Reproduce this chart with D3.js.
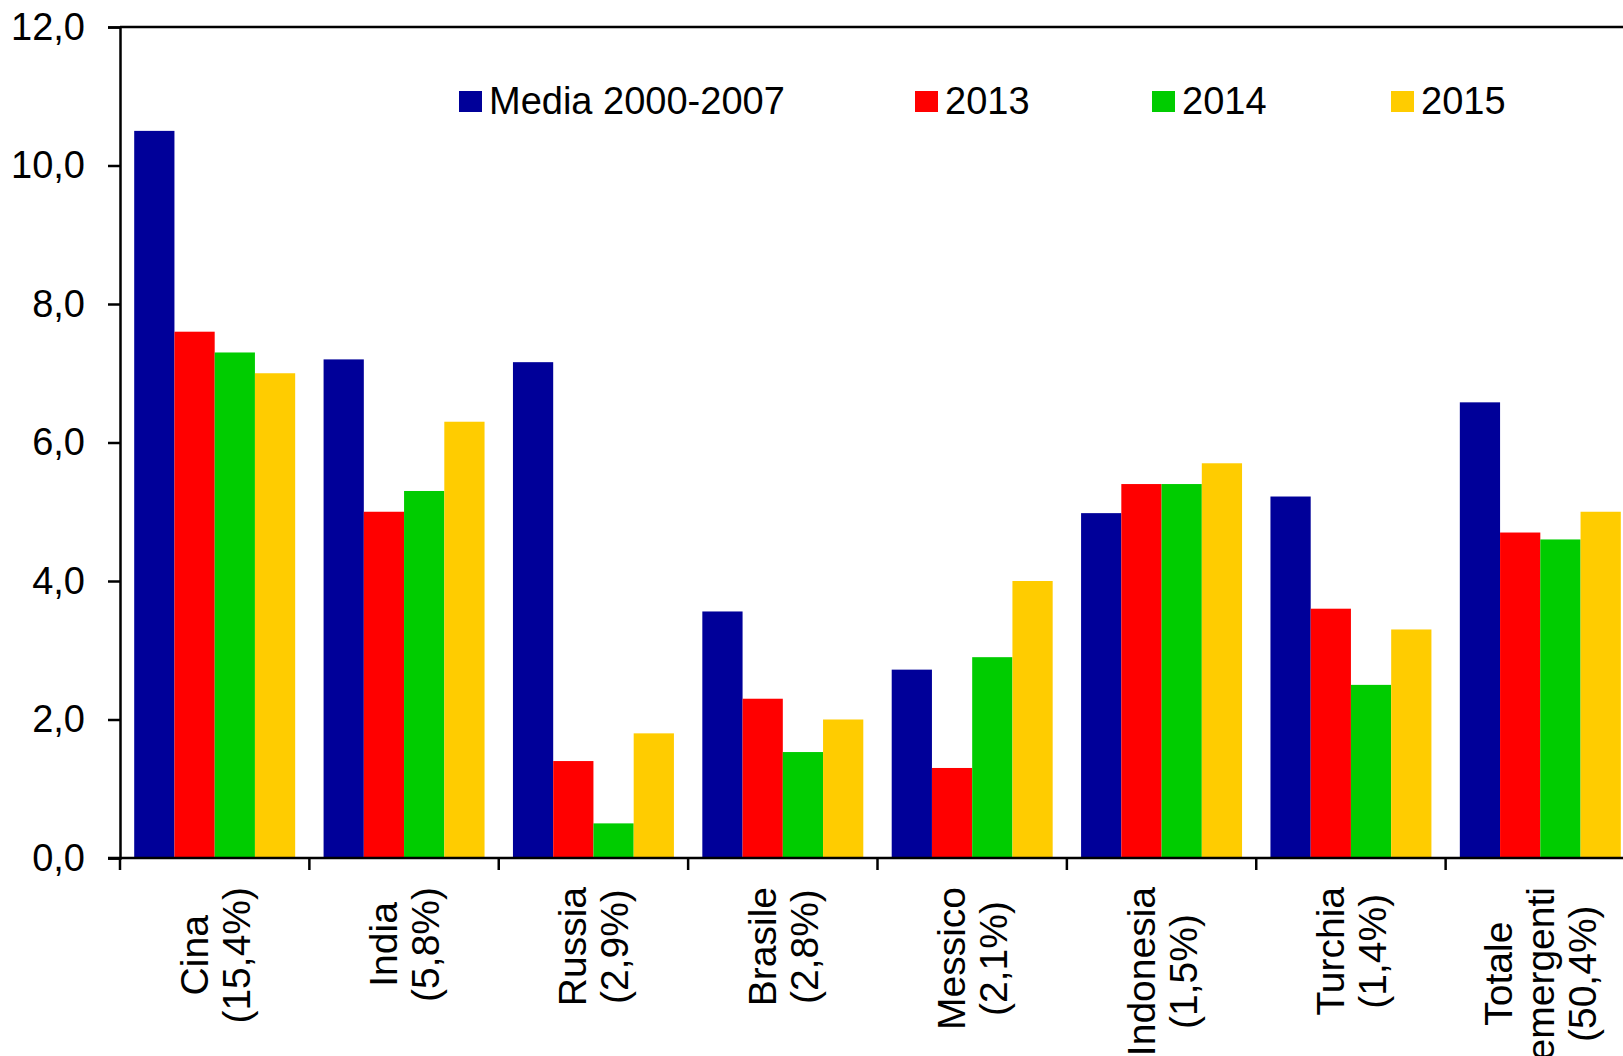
<!DOCTYPE html>
<html>
<head>
<meta charset="utf-8">
<script src="https://cdn.jsdelivr.net/npm/d3@7"></script>
<style>
  html, body { margin: 0; padding: 0; background: #fff; overflow: hidden; }
  svg { display: block; font-family: "Liberation Sans", Arial, sans-serif; }
</style>
</head>
<body>
<svg id="chart" width="1623" height="1056"></svg>
<script>
// ---- data ----
const categories = [
  ["Cina", "(15,4%)"],
  ["India", "(5,8%)"],
  ["Russia", "(2,9%)"],
  ["Brasile", "(2,8%)"],
  ["Messico", "(2,1%)"],
  ["Indonesia", "(1,5%)"],
  ["Turchia", "(1,4%)"],
  ["Totale", "emergenti", "(50,4%)"]
];
const seriesNames = ["Media 2000-2007", "2013", "2014", "2015"];
const seriesColors = ["#000099", "#FF0000", "#00CC00", "#FFCC00"];
const media2000_2007 = [10.5, 7.2, 7.16, 3.56, 2.72, 4.98, 5.22, 6.58];
const v2013 = [7.6, 5.0, 1.4, 2.3, 1.3, 5.4, 3.6, 4.7];
const v2014 = [7.3, 5.3, 0.5, 1.53, 2.9, 5.4, 2.5, 4.6];
const v2015 = [7.0, 6.3, 1.8, 2.0, 4.0, 5.7, 3.3, 5.0];
const yTicks = [0, 2, 4, 6, 8, 10, 12];

const seriesValues = [media2000_2007, v2013, v2014, v2015];

// ---- layout ----
const svg = d3.select("#chart");
const plotLeft = 120, plotRight = 1635, plotTop = 27, plotBottom = 858;

const catKeys = categories.map((c, i) => i);
const x0 = d3.scaleBand().domain(catKeys).range([plotLeft, plotRight])
  .paddingInner(0.15).paddingOuter(0.075);
const x1 = d3.scaleBand().domain(d3.range(seriesNames.length)).range([0, x0.bandwidth()]);
const y = d3.scaleLinear().domain([0, 12]).range([plotBottom, plotTop]);

// bars
const groups = svg.append("g").selectAll("g").data(catKeys).join("g")
  .attr("transform", d => `translate(${x0(d)},0)`);
groups.selectAll("rect")
  .data(ci => seriesValues.map((vals, si) => ({ si, v: vals[ci] })))
  .join("rect")
  .attr("x", d => x1(d.si))
  .attr("width", x1.bandwidth())
  .attr("y", d => y(d.v))
  .attr("height", d => y(0) - y(d.v))
  .attr("fill", d => seriesColors[d.si]);

// y axis
const yAxis = d3.axisLeft(y).tickValues(yTicks).tickSize(12).tickPadding(23)
  .tickFormat(d => d3.format(".1f")(d).replace(".", ","));
const yg = svg.append("g").attr("transform", `translate(${plotLeft},0)`).call(yAxis);
yg.select(".domain").attr("stroke", "#000").attr("stroke-width", 2.5);
yg.selectAll(".tick line").attr("stroke", "#000").attr("stroke-width", 2.5);
yg.selectAll(".tick text").attr("font-size", 38).attr("fill", "#000")
  .attr("font-family", "'Liberation Sans', Arial, sans-serif");

// top border line
svg.append("line").attr("x1", plotLeft).attr("x2", 1623)
  .attr("y1", y(12)).attr("y2", y(12)).attr("stroke", "#000").attr("stroke-width", 2.5);

// x axis baseline
svg.append("line").attr("x1", plotLeft - 12).attr("x2", 1623)
  .attr("y1", y(0)).attr("y2", y(0)).attr("stroke", "#000").attr("stroke-width", 2.5);

// x category boundary ticks
const halfGap = (x0.step() - x0.bandwidth()) / 2;
svg.append("g").selectAll("line").data(catKeys).join("line")
  .attr("x1", d => x0(d) - halfGap).attr("x2", d => x0(d) - halfGap)
  .attr("y1", y(0)).attr("y2", y(0) + 12)
  .attr("stroke", "#000").attr("stroke-width", 2.5);

// category labels (rotated)
const labelTop = 887, lineSpacing = 42, fontSize = 39;
catKeys.forEach(ci => {
  const lines = categories[ci];
  const cx = x0(ci) + x0.bandwidth() / 2;
  const g = svg.append("g").attr("transform", `translate(${cx},${labelTop}) rotate(-90)`);
  const texts = g.selectAll("text").data(lines).join("text")
    .attr("font-size", fontSize).attr("fill", "#000")
    .attr("text-anchor", "middle")
    .attr("y", (d, i) => (i - (lines.length - 1) / 2) * lineSpacing + 14)
    .text(d => d);
  let maxLen = 0;
  texts.each(function () { maxLen = Math.max(maxLen, this.getComputedTextLength()); });
  texts.attr("x", -maxLen / 2);
});

// legend
const legendSquareX = [459, 915, 1152, 1391];
const legend = svg.append("g").selectAll("g").data(seriesNames).join("g");
legend.append("rect")
  .attr("x", (d, i) => legendSquareX[i]).attr("y", 91)
  .attr("width", 23).attr("height", 21)
  .attr("fill", (d, i) => seriesColors[i]);
legend.append("text")
  .attr("x", (d, i) => legendSquareX[i] + 30).attr("y", 114)
  .attr("font-size", 38).attr("fill", "#000")
  .text(d => d);
</script>
</body>
</html>
